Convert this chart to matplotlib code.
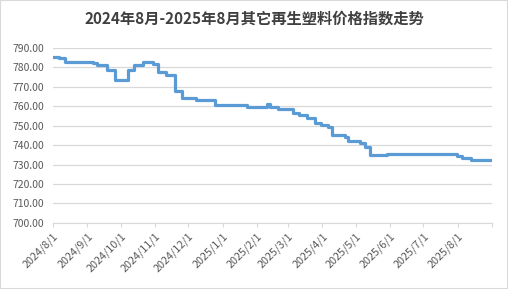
import pandas as pd
import matplotlib.pyplot as plt
from matplotlib.patches import Rectangle

# step points of the index (date where a new level starts, level)
dates = ['2024-08-01', '2024-08-07', '2024-08-12', '2024-09-06', '2024-09-10',
         '2024-09-19', '2024-09-26', '2024-10-08', '2024-10-13', '2024-10-21',
         '2024-10-30', '2024-11-04', '2024-11-11', '2024-11-19', '2024-11-25',
         '2024-12-08', '2024-12-25', '2025-01-23', '2025-02-10', '2025-02-13',
         '2025-02-20', '2025-03-05', '2025-03-11', '2025-03-18', '2025-03-25',
         '2025-03-31', '2025-04-06', '2025-04-10', '2025-04-21', '2025-04-24',
         '2025-05-05', '2025-05-09', '2025-05-14', '2025-05-29', '2025-07-31',
         '2025-08-05', '2025-08-13', '2025-09-01']
values = [785.3, 784.8, 783.0, 782.2, 781.1,
          778.9, 773.3, 778.7, 781.3, 782.7,
          781.8, 777.4, 776.3, 767.9, 764.4,
          763.2, 760.7, 759.6, 761.0, 759.8,
          758.6, 756.7, 755.5, 753.8, 751.5,
          750.2, 749.2, 745.2, 744.3, 742.3,
          741.2, 739.2, 734.9, 735.4, 734.5,
          733.2, 732.3, 732.3]
tick_dates = ['2024-08-01', '2024-09-01', '2024-10-01', '2024-11-01', '2024-12-01',
              '2025-01-01', '2025-02-01', '2025-03-01', '2025-04-01', '2025-05-01',
              '2025-06-01', '2025-07-01', '2025-08-01', '2025-09-01']
tick_labels = ['2024/8/1', '2024/9/1', '2024/10/1', '2024/11/1', '2024/12/1',
               '2025/1/1', '2025/2/1', '2025/3/1', '2025/4/1', '2025/5/1',
               '2025/6/1', '2025/7/1', '2025/8/1', '']
title = '2024年8月-2025年8月其它再生塑料价格指数走势'

plt.rcParams['font.family'] = ['Noto Sans CJK SC', 'DejaVu Sans']

x = pd.to_datetime(dates)
fig = plt.figure(figsize=(5.08, 2.89), dpi=100)
fig.patches.append(Rectangle((0, 0), 1, 1, transform=fig.transFigure,
                             fill=False, edgecolor='#d9d9d9', lw=1.5))
ax = fig.add_axes([0.104, 0.229, 0.865, 0.605])

ax.plot(x, values, drawstyle='steps-post', color='#5b9bd5', lw=2.3)

ax.set_ylim(700, 790)
ax.set_yticks(range(700, 791, 10))
ax.yaxis.set_major_formatter(plt.FuncFormatter(lambda v, p: f'{v:.2f}'))
ax.set_xlim(pd.Timestamp('2024-08-01'), pd.Timestamp('2025-09-01'))
ax.set_xticks(pd.to_datetime(tick_dates))
ax.set_xticklabels(tick_labels, rotation=45, ha='right', rotation_mode='anchor')

ax.grid(axis='y', color='#d9d9d9', lw=0.9)
ax.set_axisbelow(True)
for s in ['top', 'right', 'left']:
    ax.spines[s].set_visible(False)
ax.spines['bottom'].set_color('#d9d9d9')
ax.tick_params(axis='y', length=0, labelsize=7.5, labelcolor='#595959', pad=6)
ax.tick_params(axis='x', length=3, color='#d9d9d9', labelsize=7.8, labelcolor='#595959', pad=3)

fig.text(0.5, 0.935, title, ha='center', va='center', fontsize=11,
         fontweight='bold', color='#404040')

fig.savefig('out.png', dpi=100)
